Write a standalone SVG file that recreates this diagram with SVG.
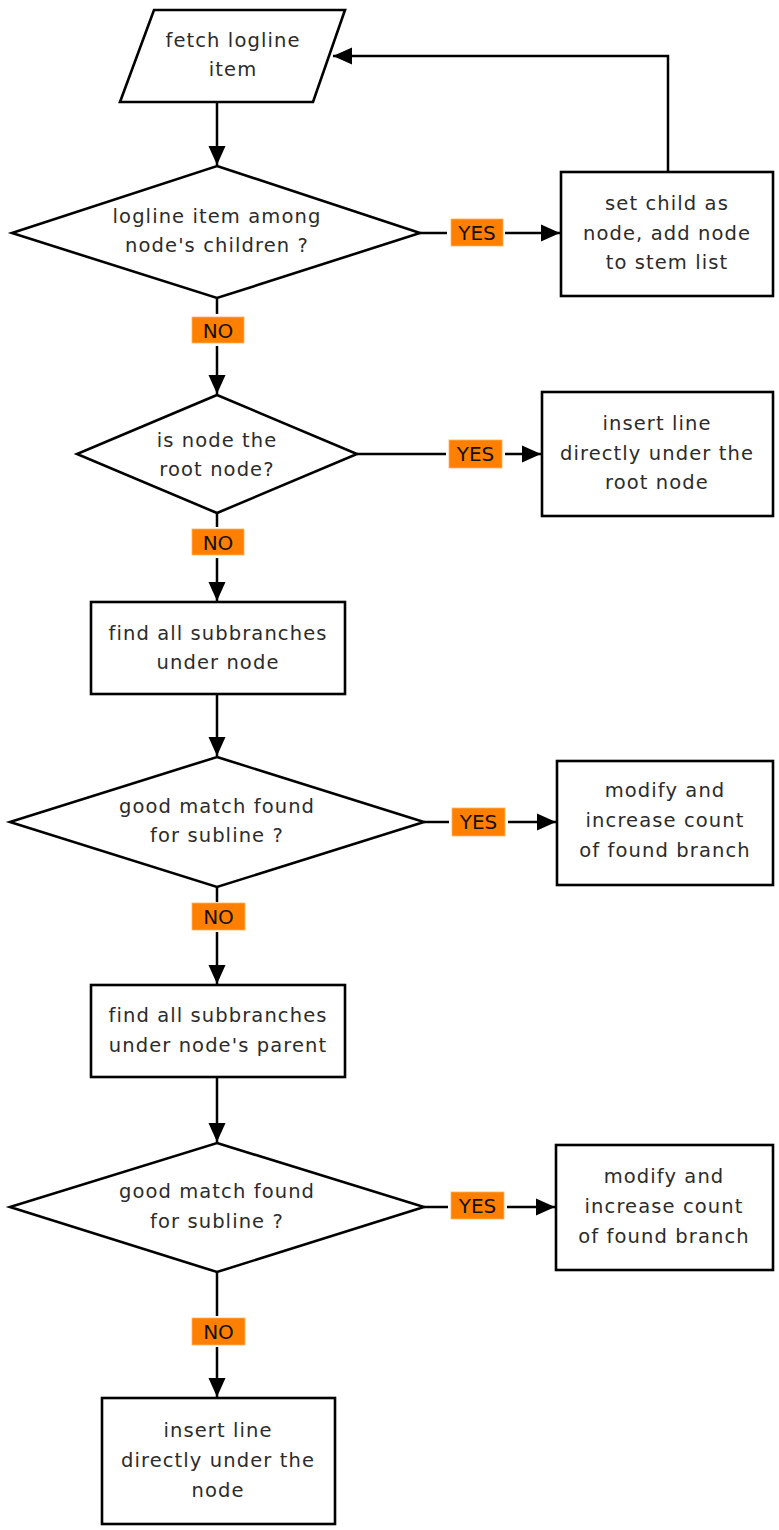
<svg xmlns="http://www.w3.org/2000/svg" width="779" height="1530" viewBox="0 0 779 1530">
  <style>
    .shape { fill: #ffffff; stroke: #000000; stroke-width: 2.6; }
    .edge { fill: none; stroke: #000000; stroke-width: 2.5; }
    .txt { font-family: "DejaVu Sans", sans-serif; font-size: 19.5px; fill: #2b2b2b; text-anchor: middle; letter-spacing: 1.1px; }
    .tag { fill: #ff8000; stroke: #ffb060; stroke-width: 0.8; }
    .tagtxt { font-family: "DejaVu Sans", sans-serif; font-size: 20px; fill: #111111; text-anchor: middle; }
  </style>
  <defs>
    <marker id="arrow" markerUnits="userSpaceOnUse" markerWidth="22" markerHeight="18" refX="20" refY="9" orient="auto">
      <path d="M1,0.5 L20,9 L1,17.5 Z" fill="#000000"/>
    </marker>
  </defs>
  <rect width="779" height="1530" fill="#ffffff"/>

  <g id="connectors">
    <!-- fetch -> first decision -->
    <path class="edge" d="M217,102 L217,165" marker-end="url(#arrow)"/>
    <!-- decision 1: YES -->
    <path class="edge" d="M420,233 L447,233"/>
    <path class="edge" d="M505,233 L560,233" marker-end="url(#arrow)"/>
    <!-- loop back to fetch -->
    <path class="edge" d="M668,172 L668,56 L333,56" marker-end="url(#arrow)"/>
    <!-- decision 1: NO -->
    <path class="edge" d="M217,298 L217,314"/>
    <path class="edge" d="M217,346 L217,394" marker-end="url(#arrow)"/>
    <!-- decision 2: YES -->
    <path class="edge" d="M357,454 L446,454"/>
    <path class="edge" d="M505,454 L541,454" marker-end="url(#arrow)"/>
    <!-- decision 2: NO -->
    <path class="edge" d="M217,513 L217,527"/>
    <path class="edge" d="M217,558 L217,601" marker-end="url(#arrow)"/>
    <!-- subbranches -> decision 3 -->
    <path class="edge" d="M217,694 L217,756" marker-end="url(#arrow)"/>
    <!-- decision 3: YES -->
    <path class="edge" d="M424,822 L449,822"/>
    <path class="edge" d="M508,822 L556,822" marker-end="url(#arrow)"/>
    <!-- decision 3: NO -->
    <path class="edge" d="M217,887 L217,902"/>
    <path class="edge" d="M217,932 L217,984" marker-end="url(#arrow)"/>
    <!-- parent subbranches -> decision 4 -->
    <path class="edge" d="M217,1077 L217,1142" marker-end="url(#arrow)"/>
    <!-- decision 4: YES -->
    <path class="edge" d="M424,1207 L448,1207"/>
    <path class="edge" d="M507,1207 L555,1207" marker-end="url(#arrow)"/>
    <!-- decision 4: NO -->
    <path class="edge" d="M217,1272 L217,1316"/>
    <path class="edge" d="M217,1347 L217,1397" marker-end="url(#arrow)"/>

    <!-- branch tags -->
    <rect class="tag" x="451" y="219" width="52" height="27"/>
    <text class="tagtxt" x="477" y="240">YES</text>
    <rect class="tag" x="192" y="317" width="52" height="26"/>
    <text class="tagtxt" x="218" y="338">NO</text>
    <rect class="tag" x="449" y="440" width="53" height="28"/>
    <text class="tagtxt" x="475.5" y="461">YES</text>
    <rect class="tag" x="192" y="529" width="52" height="26"/>
    <text class="tagtxt" x="218" y="550">NO</text>
    <rect class="tag" x="452" y="808" width="53" height="28"/>
    <text class="tagtxt" x="478.5" y="829">YES</text>
    <rect class="tag" x="192" y="903" width="53" height="27"/>
    <text class="tagtxt" x="218.5" y="924">NO</text>
    <rect class="tag" x="451" y="1192" width="53" height="27"/>
    <text class="tagtxt" x="477.5" y="1213">YES</text>
    <rect class="tag" x="192" y="1318" width="53" height="27"/>
    <text class="tagtxt" x="218.5" y="1339">NO</text>
  </g>

  <g id="fetch">
    <polygon class="shape" points="154,10 345,10 313,102 120,102"/>
    <text class="txt" x="233" y="47">fetch logline</text>
    <text class="txt" x="233" y="76">item</text>
  </g>

  <g id="among-children">
    <polygon class="shape" points="217,166 420,233 217,298 12,233"/>
    <text class="txt" x="217" y="223">logline item among</text>
    <text class="txt" x="217" y="252">node's children ?</text>
  </g>

  <g id="set-child">
    <rect class="shape" x="561" y="172" width="212" height="124"/>
    <text class="txt" x="667" y="210">set child as</text>
    <text class="txt" x="667" y="240">node, add node</text>
    <text class="txt" x="667" y="269">to stem list</text>
  </g>

  <g id="is-root">
    <polygon class="shape" points="217,395 357,454 217,513 77,454"/>
    <text class="txt" x="217" y="447">is node the</text>
    <text class="txt" x="217" y="476">root node?</text>
  </g>

  <g id="insert-root">
    <rect class="shape" x="542" y="392" width="231" height="124"/>
    <text class="txt" x="657" y="430">insert line</text>
    <text class="txt" x="657" y="460">directly under the</text>
    <text class="txt" x="657" y="489">root node</text>
  </g>

  <g id="subbranches-node">
    <rect class="shape" x="91" y="602" width="254" height="92"/>
    <text class="txt" x="218" y="640">find all subbranches</text>
    <text class="txt" x="218" y="669">under node</text>
  </g>

  <g id="match-1">
    <polygon class="shape" points="217,757 424,822 217,887 10,822"/>
    <text class="txt" x="217" y="813">good match found</text>
    <text class="txt" x="217" y="842">for subline ?</text>
  </g>

  <g id="modify-1">
    <rect class="shape" x="557" y="761" width="216" height="124"/>
    <text class="txt" x="665" y="797">modify and</text>
    <text class="txt" x="665" y="827">increase count</text>
    <text class="txt" x="665" y="857">of found branch</text>
  </g>

  <g id="subbranches-parent">
    <rect class="shape" x="91" y="985" width="254" height="92"/>
    <text class="txt" x="218" y="1022">find all subbranches</text>
    <text class="txt" x="218" y="1052">under node's parent</text>
  </g>

  <g id="match-2">
    <polygon class="shape" points="217,1143 424,1207 217,1272 10,1207"/>
    <text class="txt" x="217" y="1198">good match found</text>
    <text class="txt" x="217" y="1228">for subline ?</text>
  </g>

  <g id="modify-2">
    <rect class="shape" x="556" y="1145" width="217" height="125"/>
    <text class="txt" x="664" y="1183">modify and</text>
    <text class="txt" x="664" y="1213">increase count</text>
    <text class="txt" x="664" y="1243">of found branch</text>
  </g>

  <g id="insert-node">
    <rect class="shape" x="102" y="1398" width="233" height="126"/>
    <text class="txt" x="218" y="1437">insert line</text>
    <text class="txt" x="218" y="1467">directly under the</text>
    <text class="txt" x="218" y="1497">node</text>
  </g>
</svg>
